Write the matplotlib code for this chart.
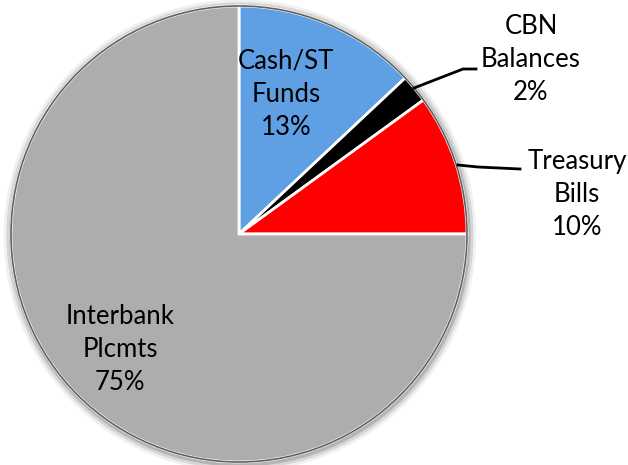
import numpy as np
import matplotlib.pyplot as plt
from matplotlib.patches import Circle

labels = ['Cash/ST\nFunds', 'CBN\nBalances', 'Treasury\nBills', 'Interbank\nPlcmts']
shares = [13, 2, 10, 75]
colors = ['#5f9fe3', '#000000', '#ff0000', '#adadad']

plt.rcParams['font.family'] = ['Lato', 'DejaVu Sans']

fig = plt.figure(figsize=(6.28, 4.65), dpi=100)
ax = fig.add_axes([0, 0, 1, 1])

# pie centred at (239, 234) px with radius 228 px
r_px = 228.0
cx, cy = 239.0, 465 - 234.0

# soft shadow around the rim
for i, a in enumerate([0.06, 0.1, 0.16]):
    ax.add_patch(Circle((0.004, -0.008), 1.0 + 0.012 * (3 - i), color='black',
                        alpha=a, lw=0, zorder=0))

wedges, _ = ax.pie(shares, colors=colors, startangle=90, counterclock=False,
                   radius=1.0, center=(0, 0), frame=True,
                   wedgeprops=dict(edgecolor='white', linewidth=2.0))
for w in wedges:
    w.set_zorder(2)
ax.set_xlim(-cx / r_px, (628 - cx) / r_px)
ax.set_ylim(-cy / r_px, (465 - cy) / r_px)
ax.set_aspect('equal')
ax.axis('off')

# darker outer rim
ax.add_patch(Circle((0, 0), 1.0, fill=False, edgecolor='#606060', lw=1.2, zorder=3))

fs = 18.5
txt = [f'{l}\n{s}%' for l, s in zip(labels, shares)]

def px(x, y):
    return ((x - cx) / r_px, ((465 - y) - cy) / r_px)

ax.text(*px(286, 94), txt[0], ha='center', va='center', fontsize=fs,
        linespacing=1.4, zorder=5)
ax.text(*px(120, 349), txt[3], ha='center', va='center', fontsize=fs,
        linespacing=1.4, zorder=5)
ax.text(*px(531, 59), txt[1], ha='center', va='center', fontsize=fs,
        linespacing=1.4, zorder=5)
ax.text(*px(577, 194), txt[2], ha='center', va='center', fontsize=fs,
        linespacing=1.4, zorder=5)

# leader lines for the two outside labels
l1 = np.array([px(414, 88), px(463, 69), px(476, 69)])
ax.plot(l1[:, 0], l1[:, 1], color='black', lw=2, zorder=6)
l2 = np.array([px(458, 165), px(478, 167), px(520, 169)])
ax.plot(l2[:, 0], l2[:, 1], color='black', lw=2, zorder=6)

fig.savefig('out.png', dpi=100)
